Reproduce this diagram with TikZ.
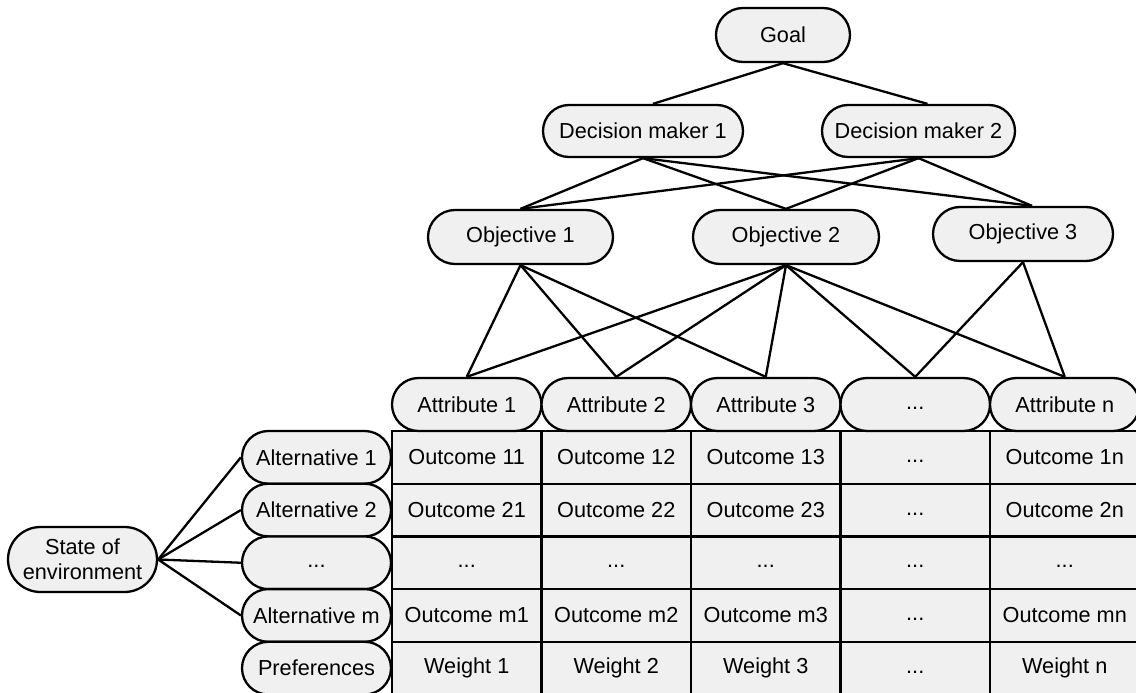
\documentclass[tikz,border=0pt]{standalone}
\usepackage{fontspec}
\setmainfont{Liberation Sans}
\usetikzlibrary{shapes.misc}
\definecolor{boxfill}{HTML}{F0F0F0}
% dots that sit on the text baseline like the other labels
\newcommand{\cellgap}{\vphantom{Ag}...}
\begin{document}
\begin{tikzpicture}[x=1pt,y=-1pt,line width=2.3pt,
  every node/.style={font=\fontsize{21.7}{25}\selectfont, text=black},
  pill/.style 2 args={rounded rectangle, draw, fill=boxfill, inner sep=0pt,
    minimum width=#1, minimum height=#2, align=center},
  cell/.style={rectangle, draw, fill=boxfill, inner sep=0pt,
    minimum width=149.5pt, minimum height=52.7pt},
  link/.style={draw, line width=2.3pt}]
\useasboundingbox (0,0) rectangle (1136,693);
\clip (0,0) rectangle (1136,693);

% outcome / weight table
\foreach \r/\cy/\a/\b/\c/\d/\e in {
  1/457.35/Outcome 11/Outcome 12/Outcome 13/\cellgap/Outcome 1n,
  2/510.05/Outcome 21/Outcome 22/Outcome 23/\cellgap/Outcome 2n,
  3/562.75/\cellgap/\cellgap/\cellgap/\cellgap/\cellgap,
  4/615.45/Outcome m1/Outcome m2/Outcome m3/\cellgap/Outcome mn,
  5/668.15/Weight 1/Weight 2/Weight 3/\cellgap/Weight n}{
  \node[cell] (c\r-1) at (466.75,\cy) {\a};
  \node[cell] (c\r-2) at (616.25,\cy) {\b};
  \node[cell] (c\r-3) at (765.75,\cy) {\c};
  \node[cell] (c\r-4) at (915.25,\cy) {\d};
  \node[cell] (c\r-5) at (1064.75,\cy) {\e};
}

% hierarchy
\node[pill={134}{54}] (goal) at (783,35) {Goal};
\node[pill={200}{52}] (dm1) at (643,131) {Decision maker 1};
\node[pill={193}{52}] (dm2) at (918.5,131) {Decision maker 2};
\node[pill={185}{54}] (o1) at (520.5,237) {Objective 1};
\node[pill={186}{54}] (o2) at (786,237) {Objective 2};
\node[pill={180}{54}] (o3) at (1023,234) {Objective 3};

% attributes
\node[pill={149.5}{53}] (a1) at (466.75,404.5) {Attribute 1};
\node[pill={149.5}{53}] (a2) at (616.25,404.5) {Attribute 2};
\node[pill={149.5}{53}] (a3) at (765.75,404.5) {Attribute 3};
\node[pill={149.5}{53}] (a4) at (915.25,404.5) {\cellgap};
\node[pill={149.5}{53}] (a5) at (1064.75,404.5) {Attribute n};

% alternatives
\node[pill={149}{52.7}] (alt1) at (316.5,457.35) {Alternative 1};
\node[pill={149}{52.7}] (alt2) at (316.5,510.05) {Alternative 2};
\node[pill={149}{52.7}] (alt3) at (316.5,562.75) {\cellgap};
\node[pill={149}{52.7}] (altm) at (316.5,615.45) {Alternative m};
\node[pill={149}{52.7}] (pref) at (316.5,668.15) {Preferences};

\node[pill={149}{65}] (state) at (82.5,559.5) {State of\\environment};

% connectors
\draw[link] (goal.south) -- ([xshift=10pt]dm1.north);
\draw[link] (goal.south) -- ([xshift=9pt]dm2.north);
\foreach \d in {dm1,dm2}{
  \draw[link] (\d.south) -- (o1.north);
  \draw[link] (\d.south) -- (o2.north);
  \draw[link] (\d.south) -- ([xshift=9pt]o3.north);
}
\foreach \t in {a1,a2,a3}{\draw[link] (o1.south) -- (\t.north);}
\foreach \t in {a1,a2,a3,a4,a5}{\draw[link] (o2.south) -- (\t.north);}
\foreach \t in {a4,a5}{\draw[link] (o3.south) -- (\t.north);}
\foreach \t in {alt1,alt2,alt3,altm}{\draw[link] (state.east) -- (\t.west);}
\end{tikzpicture}
\end{document}
